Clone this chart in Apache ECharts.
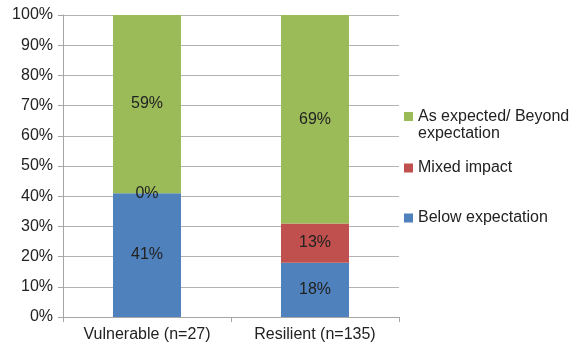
<!DOCTYPE html>
<html>
<head>
<meta charset="utf-8">
<script src="https://cdn.jsdelivr.net/npm/echarts@6/dist/echarts.min.js"></script>
<style>
  html, body { margin: 0; padding: 0; background: #fff; }
  #main { width: 585px; height: 350px; }
</style>
</head>
<body>
<div id="main"></div>
<script>
// chart data
const categories = ['Vulnerable (n=27)', 'Resilient (n=135)'];
const below = [41, 18];
const mixed = [0, 13];
const asExpected = [59, 69];
const yTicks = [0, 10, 20, 30, 40, 50, 60, 70, 80, 90, 100];

const font = 'Liberation Sans, Arial, Helvetica, sans-serif';
const txt = '#222';

function bar(name, data, color) {
    return {
        name: name,
        type: 'bar',
        stack: 'all',
        data: data,
        barWidth: 68,
        itemStyle: { color: color },
        label: {
            show: true,
            position: 'inside',
            formatter: '{c}%',
            color: txt,
            fontFamily: font,
            fontSize: 16
        }
    };
}

function legendAt(name, top, extra) {
    return Object.assign({
        data: [name],
        left: 404,
        top: top,
        orient: 'vertical',
        icon: 'rect',
        itemWidth: 9,
        itemHeight: 9,
        itemGap: 0,
        padding: 0,
        selectedMode: false,
        textStyle: { color: txt, fontFamily: font, fontSize: 16, lineHeight: 18 }
    }, extra || {});
}

let optionObj = {
    animation: false,
    backgroundColor: '#fff',
    grid: { left: 63, right: 186, top: 15, bottom: 33 },
    legend: [
        // blank first line keeps the marker level with the first text line
        legendAt('As expected/ Beyond expectation', 91, {
            formatter: ' \nAs expected/ Beyond\nexpectation',
            textStyle: { color: txt, fontFamily: font, fontSize: 16, lineHeight: 17 }
        }),
        legendAt('Mixed impact', 159),
        legendAt('Below expectation', 209)
    ],
    xAxis: {
        type: 'category',
        data: categories,
        axisLine: { lineStyle: { color: '#a6a6a6' } },
        axisTick: { show: true, length: 5, lineStyle: { color: '#a6a6a6' } },
        axisLabel: { color: txt, fontFamily: font, fontSize: 16, margin: 10 }
    },
    yAxis: {
        type: 'value',
        min: yTicks[0],
        max: yTicks[yTicks.length - 1],
        interval: 10,
        axisLine: { show: true, lineStyle: { color: '#a6a6a6' } },
        axisTick: { show: true, length: 5, lineStyle: { color: '#a6a6a6' } },
        splitLine: { lineStyle: { color: '#b3b3b3' } },
        axisLabel: { color: txt, fontFamily: font, fontSize: 16, margin: 10, formatter: '{value}%' }
    },
    series: [
        bar('Below expectation', below, '#4f81bd'),
        bar('Mixed impact', mixed, '#c0504d'),
        bar('As expected/ Beyond expectation', asExpected, '#9bbb59')
    ]
};

let myChart = echarts.init(document.getElementById('main'));
myChart.setOption(optionObj);
</script>
</body>
</html>
